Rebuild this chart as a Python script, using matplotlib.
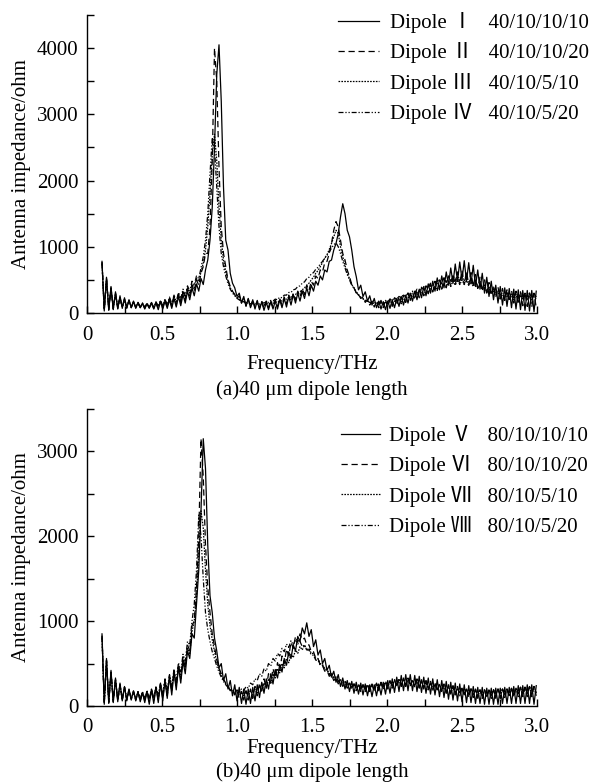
import numpy as np
import matplotlib
matplotlib.use('Agg')
import matplotlib.pyplot as plt
from matplotlib.ticker import MultipleLocator, FixedLocator

plt.rcParams['font.family'] = ['Liberation Serif', 'Noto Sans CJK SC', 'DejaVu Sans']

# shared frequency samples (THz)
freq = np.round(0.100 + 0.015 * np.arange(194), 3)

# ---------------- panel (a): 40 um dipoles ----------------
a_dipole1 = [
    780, 30, 540, 40, 400, 50, 320, 60, 260, 70,
    230, 70, 200, 80, 180, 70, 160, 80, 150, 60,
    140, 70, 150, 60, 150, 50, 170, 60, 180, 70,
    200, 70, 220, 90, 250, 110, 280, 150, 330, 200,
    380, 260, 440, 330, 520, 430, 650, 800, 1100, 1600,
    2500, 3600, 4050, 3200, 1900, 1100, 950, 600, 450, 380,
    250, 300, 150, 250, 100, 220, 80, 200, 60, 180,
    50, 170, 40, 160, 50, 170, 60, 180, 60, 200,
    80, 220, 90, 250, 120, 280, 150, 300, 180, 330,
    220, 380, 260, 420, 330, 480, 420, 560, 500, 650,
    620, 780, 800, 950, 1050, 1200, 1450, 1650, 1500, 1250,
    1150, 950, 700, 550, 350, 420, 250, 320, 180, 260,
    120, 220, 80, 180, 60, 170, 50, 180, 70, 200,
    80, 220, 100, 250, 120, 270, 150, 300, 180, 330,
    200, 360, 230, 400, 260, 440, 300, 480, 330, 530,
    350, 560, 380, 620, 420, 680, 450, 740, 480, 770,
    500, 790, 480, 760, 440, 720, 400, 650, 360, 600,
    300, 540, 250, 480, 200, 420, 150, 400, 120, 380,
    100, 370, 80, 360, 60, 350, 50, 340, 40, 340,
    30, 340, 20, 330]
a_dipole2 = [
    760, 40, 520, 50, 380, 60, 300, 70, 240, 80,
    210, 80, 190, 80, 170, 80, 150, 80, 140, 70,
    140, 80, 150, 70, 160, 70, 180, 80, 200, 90,
    220, 100, 250, 120, 280, 160, 320, 200, 370, 260,
    420, 320, 500, 420, 600, 700, 900, 900, 1300, 2300,
    4000, 3500, 2200, 1300, 900, 700, 500, 400, 330, 280,
    220, 260, 150, 230, 110, 210, 90, 200, 80, 190,
    70, 180, 70, 180, 80, 190, 90, 200, 100, 220,
    120, 240, 140, 270, 170, 300, 200, 330, 240, 370,
    280, 420, 340, 480, 420, 560, 520, 650, 620, 760,
    780, 900, 1050, 1250, 1380, 1300, 1100, 900, 800, 650,
    550, 430, 380, 300, 280, 220, 240, 160, 200, 120,
    180, 90, 180, 80, 190, 80, 200, 90, 210, 100,
    230, 120, 250, 140, 270, 160, 300, 180, 320, 200,
    350, 230, 380, 260, 410, 290, 440, 320, 470, 340,
    500, 360, 530, 380, 560, 400, 590, 420, 620, 430,
    640, 430, 630, 420, 610, 400, 580, 370, 540, 340,
    500, 300, 460, 270, 420, 240, 390, 210, 370, 190,
    350, 170, 340, 150, 330, 130, 320, 110, 310, 100,
    300, 90, 300, 80]
a_dipole3 = [
    740, 60, 500, 70, 360, 80, 280, 90, 230, 90,
    200, 90, 180, 90, 160, 90, 150, 90, 140, 90,
    140, 90, 150, 90, 160, 90, 180, 100, 200, 110,
    220, 130, 250, 150, 290, 190, 330, 240, 380, 300,
    440, 380, 520, 480, 620, 750, 950, 1300, 1800, 2400,
    2700, 2300, 1600, 1100, 800, 620, 480, 380, 320, 270,
    230, 200, 180, 170, 150, 150, 130, 140, 120, 140,
    120, 140, 120, 150, 130, 160, 140, 170, 160, 190,
    180, 210, 210, 240, 240, 270, 280, 310, 320, 350,
    380, 420, 450, 500, 540, 600, 640, 700, 760, 830,
    880, 960, 1050, 1150, 1250, 1200, 1000, 850, 720, 600,
    520, 430, 380, 320, 280, 240, 220, 190, 180, 160,
    160, 140, 150, 130, 150, 130, 160, 140, 170, 150,
    180, 160, 200, 170, 220, 190, 240, 210, 260, 230,
    290, 250, 310, 270, 340, 300, 370, 320, 400, 350,
    420, 370, 440, 390, 460, 410, 480, 420, 500, 430,
    500, 430, 490, 420, 470, 400, 450, 380, 420, 350,
    390, 320, 360, 290, 330, 260, 300, 240, 280, 220,
    270, 210, 260, 200, 260, 200, 260, 200, 260, 200,
    260, 200, 260, 210]
a_dipole4 = [
    770, 50, 520, 60, 380, 70, 300, 80, 240, 90,
    210, 90, 190, 90, 170, 90, 160, 90, 150, 90,
    150, 90, 160, 90, 170, 100, 190, 110, 210, 120,
    240, 140, 270, 170, 310, 210, 360, 260, 410, 330,
    480, 420, 560, 520, 680, 850, 1100, 1500, 2100, 2650,
    2500, 1900, 1300, 900, 700, 560, 440, 360, 300, 260,
    220, 200, 180, 170, 160, 150, 140, 150, 140, 150,
    140, 160, 150, 170, 160, 190, 180, 210, 200, 240,
    230, 270, 270, 310, 310, 350, 360, 400, 410, 450,
    470, 520, 540, 590, 610, 660, 690, 740, 780, 830,
    870, 920, 980, 1030, 1060, 1000, 900, 780, 680, 580,
    500, 420, 370, 310, 270, 230, 210, 190, 180, 160,
    170, 150, 170, 150, 180, 160, 190, 170, 210, 190,
    230, 210, 250, 230, 280, 250, 300, 270, 330, 300,
    360, 320, 390, 350, 420, 380, 450, 400, 480, 420,
    510, 440, 530, 460, 560, 480, 570, 490, 580, 490,
    570, 480, 550, 460, 520, 430, 490, 400, 450, 370,
    420, 340, 390, 310, 360, 290, 340, 270, 320, 250,
    310, 240, 300, 230, 300, 230, 300, 230, 300, 230,
    300, 230, 300, 240]

# ---------------- panel (b): 80 um dipoles ----------------
b_dipole5 = [
    850, 20, 560, 30, 420, 40, 330, 50, 270, 60,
    230, 60, 200, 70, 180, 60, 170, 50, 160, 40,
    170, 20, 190, 30, 220, 40, 260, 60, 300, 90,
    350, 130, 400, 190, 460, 270, 530, 380, 650, 560,
    850, 800, 1200, 1600, 2300, 3150, 2800, 1900, 1300, 1100,
    800, 650, 450, 500, 300, 380, 200, 300, 120, 250,
    60, 220, 30, 200, 20, 200, 30, 220, 60, 250,
    100, 280, 150, 320, 200, 380, 260, 430, 330, 490,
    400, 560, 480, 640, 560, 720, 650, 820, 760, 920,
    850, 980, 820, 900, 700, 780, 600, 660, 500, 560,
    420, 480, 340, 410, 280, 370, 230, 330, 200, 300,
    170, 290, 150, 280, 140, 270, 130, 260, 120, 250,
    110, 250, 120, 260, 130, 280, 140, 300, 150, 320,
    160, 340, 170, 360, 180, 370, 180, 370, 180, 360,
    170, 350, 160, 340, 150, 330, 140, 320, 130, 310,
    110, 300, 100, 290, 80, 280, 70, 270, 60, 260,
    50, 250, 40, 240, 40, 230, 30, 220, 30, 220,
    20, 210, 20, 210, 20, 210, 20, 210, 30, 220,
    30, 220, 30, 230, 30, 240, 30, 240, 30, 250,
    30, 250, 20, 240]
b_dipole6 = [
    830, 30, 540, 40, 400, 50, 310, 60, 250, 70,
    220, 70, 190, 80, 170, 70, 160, 60, 160, 60,
    170, 50, 190, 60, 220, 70, 260, 90, 310, 120,
    360, 170, 420, 230, 490, 320, 580, 450, 720, 650,
    950, 1000, 1400, 2000, 3150, 2700, 1900, 1400, 1100, 850,
    700, 550, 450, 380, 320, 270, 230, 180, 200, 130,
    180, 90, 170, 70, 180, 70, 200, 90, 230, 120,
    270, 160, 320, 210, 380, 270, 440, 340, 510, 420,
    590, 500, 670, 590, 750, 680, 820, 750, 850, 780,
    800, 720, 720, 640, 640, 560, 560, 480, 480, 410,
    420, 350, 370, 300, 330, 260, 300, 230, 280, 210,
    270, 190, 260, 180, 260, 170, 250, 170, 250, 170,
    250, 170, 260, 180, 270, 190, 280, 200, 300, 210,
    310, 220, 320, 230, 330, 230, 330, 230, 320, 220,
    320, 210, 310, 200, 300, 190, 290, 180, 280, 170,
    270, 160, 260, 150, 250, 140, 240, 130, 230, 120,
    220, 110, 210, 100, 200, 100, 200, 90, 190, 90,
    190, 90, 190, 90, 190, 90, 200, 90, 200, 100,
    200, 100, 210, 100, 210, 110, 220, 110, 220, 110,
    230, 110, 230, 120]
b_dipole7 = [
    800, 50, 520, 60, 380, 70, 300, 80, 250, 80,
    220, 90, 190, 90, 170, 90, 160, 90, 160, 90,
    170, 90, 190, 100, 210, 110, 250, 130, 290, 160,
    340, 200, 390, 260, 460, 340, 550, 450, 680, 620,
    880, 1000, 1300, 1800, 2300, 2100, 1600, 1200, 950, 780,
    640, 520, 430, 360, 310, 260, 230, 190, 190, 150,
    170, 130, 160, 120, 170, 120, 180, 130, 200, 150,
    230, 180, 270, 220, 320, 270, 380, 330, 440, 390,
    500, 450, 560, 510, 610, 570, 660, 620, 700, 660,
    720, 660, 680, 620, 620, 560, 560, 500, 490, 440,
    430, 380, 380, 330, 340, 290, 310, 260, 290, 240,
    270, 220, 260, 210, 250, 200, 250, 200, 250, 200,
    250, 200, 260, 210, 270, 220, 280, 230, 290, 240,
    300, 240, 310, 250, 310, 250, 310, 250, 300, 240,
    300, 230, 290, 220, 280, 210, 270, 200, 260, 190,
    250, 180, 240, 170, 230, 160, 220, 150, 210, 150,
    210, 140, 200, 130, 200, 130, 190, 120, 190, 120,
    190, 120, 190, 120, 190, 120, 200, 120, 200, 130,
    200, 130, 210, 130, 210, 140, 220, 140, 220, 140,
    230, 140, 230, 150]
b_dipole8 = [
    820, 40, 530, 50, 390, 60, 310, 70, 250, 80,
    220, 80, 190, 80, 170, 80, 170, 80, 170, 80,
    180, 90, 200, 100, 230, 120, 270, 150, 320, 190,
    370, 240, 430, 310, 510, 400, 610, 530, 760, 720,
    1000, 1200, 1600, 2250, 2000, 1500, 1100, 900, 760, 640,
    560, 470, 400, 340, 290, 250, 220, 190, 190, 160,
    190, 160, 200, 180, 230, 210, 270, 250, 320, 300,
    380, 350, 440, 410, 500, 470, 560, 530, 620, 590,
    680, 640, 730, 690, 770, 720, 780, 730, 760, 700,
    720, 660, 660, 600, 600, 540, 540, 480, 480, 420,
    430, 370, 380, 330, 340, 290, 310, 260, 290, 240,
    270, 220, 260, 210, 250, 200, 250, 200, 250, 200,
    260, 200, 270, 210, 280, 220, 290, 230, 300, 240,
    310, 250, 320, 250, 320, 250, 310, 250, 310, 240,
    300, 230, 290, 220, 280, 210, 270, 200, 260, 190,
    250, 180, 240, 170, 230, 160, 220, 150, 210, 150,
    210, 140, 200, 130, 200, 130, 190, 120, 190, 120,
    190, 120, 190, 120, 190, 120, 200, 120, 200, 130,
    200, 130, 210, 130, 210, 140, 220, 140, 220, 140,
    230, 140, 230, 150]

labels_a = ['Dipole \u2160   40/10/10/10', 'Dipole \u2161   40/10/10/20',
            'Dipole \u2162   40/10/5/10', 'Dipole \u2163   40/10/5/20']
labels_b = ['Dipole \u2164   80/10/10/10', 'Dipole \u2165   80/10/10/20',
            'Dipole \u2166   80/10/5/10', 'Dipole \u2167   80/10/5/20']
title_a = '(a)40 \u03bcm dipole length'
title_b = '(b)40 \u03bcm dipole length'
xticks = [0, 0.5, 1.0, 1.5, 2.0, 2.5, 3.0]
xticklabels = ['0', '0.5', '1.0', '1.5', '2.0', '2.5', '3.0']

styles = ['-', (0, (5, 3)), (0, (1.3, 1.0)), (0, (4, 1.5, 1, 1.5, 1, 1.5))]
FS = 15

fig = plt.figure(figsize=(5.9, 7.84), dpi=100)
W = 590.0
H = 784.0
axA = fig.add_axes([87 / W, 1 - 313 / H, 450 / W, 298 / H])
axB = fig.add_axes([87 / W, 1 - 706 / H, 450 / W, 297 / H])


def style_axes(ax, ymax, yticks, xlabelpad):
    ax.set_xlim(0, 3.0)
    ax.set_ylim(0, ymax)
    for s in ['top', 'right']:
        ax.spines[s].set_visible(False)
    for s in ['left', 'bottom']:
        ax.spines[s].set_linewidth(1.0)
    ax.set_xticks(xticks)
    ax.set_xticklabels(xticklabels)
    ax.xaxis.set_minor_locator(FixedLocator([0.25, 0.75, 1.25, 1.75, 2.25, 2.75]))
    ax.set_yticks(yticks)
    ax.set_yticklabels([str(v) for v in yticks])
    ax.yaxis.set_minor_locator(MultipleLocator(500))
    ax.tick_params(which='both', direction='in', length=5, width=1.0, labelsize=FS)
    ax.tick_params(axis='x', pad=9)
    ax.tick_params(axis='y', pad=6)
    ax.set_xlabel('Frequency/THz', fontsize=FS, labelpad=xlabelpad)
    ax.set_ylabel('Antenna impedance/ohm', fontsize=FS, labelpad=4)


seriesA = [a_dipole1, a_dipole2, a_dipole3, a_dipole4]
seriesB = [b_dipole5, b_dipole6, b_dipole7, b_dipole8]

for ax, series, labels, ymax, yticks, lp in [
        (axA, seriesA, labels_a, 4500, [0, 1000, 2000, 3000, 4000], 7.5),
        (axB, seriesB, labels_b, 3500, [0, 1000, 2000, 3000], 1)]:
    for vals, ls, lab in zip(series, styles, labels):
        ax.plot(freq, vals, color='black', lw=0.9, linestyle=ls, label=lab)
    style_axes(ax, ymax, yticks, lp)

legA = axA.legend(loc='upper left', bbox_to_anchor=(338 / W, 1 - 12 / H),
                  bbox_transform=fig.transFigure, frameon=False, fontsize=FS,
                  handlelength=1.95, handletextpad=0.55, labelspacing=0.45,
                  borderpad=0, borderaxespad=0)
legB = axB.legend(loc='upper left', bbox_to_anchor=(341 / W, 1 - 425 / H),
                  bbox_transform=fig.transFigure, frameon=False, fontsize=FS,
                  handlelength=1.85, handletextpad=0.45, labelspacing=0.45,
                  borderpad=0, borderaxespad=0)

fig.text(312 / W, 1 - 390 / H, title_a, ha='center', va='center', fontsize=FS)
fig.text(312 / W, 1 - 772 / H, title_b, ha='center', va='center', fontsize=FS)

fig.savefig('out.png', dpi=100, facecolor='white')
